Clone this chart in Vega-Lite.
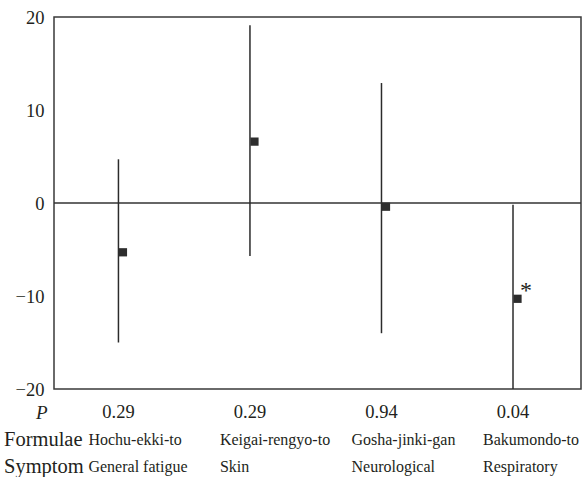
{
  "$schema": "https://vega.github.io/schema/vega-lite/v6.json",
  "autosize": {"type": "pad"},
  "padding": {"left": 3, "top": 7, "right": 0, "bottom": 0},
  "background": "white",
  "bounds": "flush",
  "spacing": 29,
  "datasets": {
    "d": [
      {"i": 1, "formula": "Hochu-ekki-to", "symptom": "General fatigue", "p": "0.29", "mean": -5.3, "lo": -15.0, "hi": 4.7, "sig": ""},
      {"i": 2, "formula": "Keigai-rengyo-to", "symptom": "Skin", "p": "0.29", "mean": 6.6, "lo": -5.7, "hi": 19.1, "sig": ""},
      {"i": 3, "formula": "Gosha-jinki-gan", "symptom": "Neurological", "p": "0.94", "mean": -0.4, "lo": -14.0, "hi": 12.9, "sig": ""},
      {"i": 4, "formula": "Bakumondo-to", "symptom": "Respiratory", "p": "0.04", "mean": -10.3, "lo": -20.0, "hi": -0.2, "sig": "*"}
    ]
  },
  "config": {
    "font": "Liberation Serif",
    "view": {"stroke": "#3a3a3a", "strokeWidth": 1.5},
    "axis": {"labelFont": "Liberation Serif", "labelColor": "#231f20", "domain": false, "ticks": false, "tickSize": 0, "grid": false, "title": null}
  },
  "vconcat": [
    {
      "width": 527,
      "height": 372,
      "layer": [
        {
          "data": {"values": [{"z": 0}]},
          "mark": {"type": "rule", "color": "#333333", "strokeWidth": 1.5},
          "encoding": {
            "y": {"field": "z", "type": "quantitative", "scale": {"domain": [-20, 20], "nice": false, "zero": false},
              "axis": {"values": [-20, -10, 0, 10, 20], "labelFontSize": 18.5, "labelPadding": 10}}
          }
        },
        {
          "data": {"name": "d"},
          "mark": {"type": "rule", "color": "#2b2b2b", "strokeWidth": 1.5},
          "encoding": {
            "x": {"field": "i", "type": "quantitative", "scale": {"domain": [0.51, 4.517], "nice": false, "zero": false}, "axis": null},
            "y": {"field": "lo", "type": "quantitative"},
            "y2": {"field": "hi"}
          }
        },
        {
          "data": {"name": "d"},
          "mark": {"type": "point", "shape": "square", "filled": true, "size": 68, "color": "#2d2d2d", "opacity": 1, "xOffset": 4.5},
          "encoding": {
            "x": {"field": "i", "type": "quantitative"},
            "y": {"field": "mean", "type": "quantitative"}
          }
        },
        {
          "data": {"name": "d"},
          "transform": [{"filter": "datum.sig === '*'"}],
          "mark": {"type": "text", "fontSize": 24, "baseline": "alphabetic", "align": "center", "dx": 13, "dy": -1, "color": "#231f20"},
          "encoding": {
            "x": {"field": "i", "type": "quantitative"},
            "y": {"field": "mean", "type": "quantitative"},
            "text": {"field": "sig"}
          }
        }
      ]
    },
    {
      "width": 527,
      "height": 54,
      "view": {"stroke": null},
      "data": {"name": "d"},
      "layer": [
        {
          "mark": {"type": "text", "fontSize": 18.5, "baseline": "alphabetic", "align": "center", "color": "#231f20"},
          "encoding": {
            "x": {"field": "i", "type": "quantitative", "scale": {"domain": [0.51, 4.517], "nice": false, "zero": false}, "axis": null},
            "y": {"datum": "P", "type": "nominal",
              "scale": {"type": "point", "domain": ["P", "Formulae", "Symptom"], "padding": 0},
              "axis": {
                "labelBaseline": "alphabetic",
                "labelFontSize": {"condition": {"test": "datum.value === 'P'", "value": 19}, "value": 20.5},
                "labelFontStyle": {"condition": {"test": "datum.value === 'P'", "value": "italic"}, "value": "normal"},
                "labelAlign": {"condition": {"test": "datum.value === 'P'", "value": "right"}, "value": "left"},
                "labelPadding": {"condition": {"test": "datum.value === 'P'", "value": 7}, "value": 50.5}
              }},
            "text": {"field": "p"}
          }
        },
        {
          "mark": {"type": "text", "fontSize": 16, "baseline": "alphabetic", "align": "left", "dx": -30, "color": "#231f20"},
          "encoding": {
            "x": {"field": "i", "type": "quantitative"},
            "y": {"datum": "Formulae", "type": "nominal"},
            "text": {"field": "formula"}
          }
        },
        {
          "mark": {"type": "text", "fontSize": 16, "baseline": "alphabetic", "align": "left", "dx": -30, "color": "#231f20"},
          "encoding": {
            "x": {"field": "i", "type": "quantitative"},
            "y": {"datum": "Symptom", "type": "nominal"},
            "text": {"field": "symptom"}
          }
        }
      ]
    }
  ]
}
